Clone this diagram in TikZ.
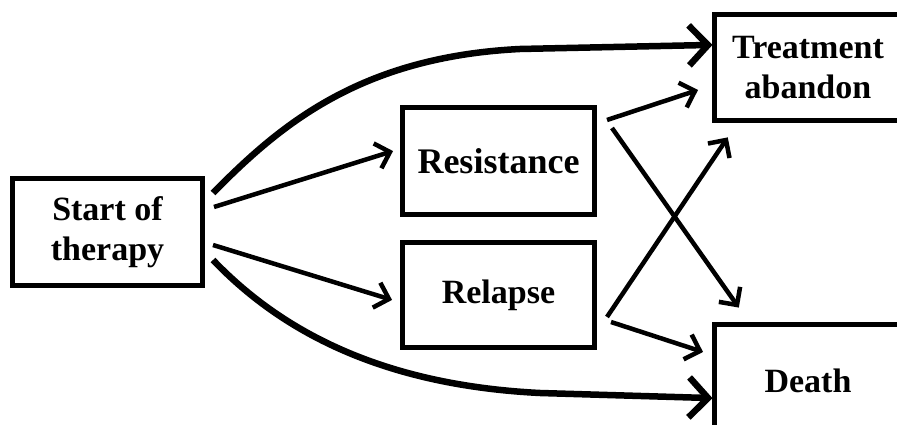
\documentclass[tikz,border=0pt]{standalone}
\usepackage{fontspec}
\setmainfont{Liberation Serif}
\usetikzlibrary{calc,decorations.markings}
\tikzset{
  box/.style={draw, line width=5pt, rectangle, align=center,
    font=\bfseries\fontsize{34}{40}\selectfont, inner sep=0pt},
  % open chevron head at the end of a path: length, half width, stroke
  chevron/.style n args={3}{postaction={decorate, decoration={markings,
    mark=at position 1 with {\draw[line width=#3, line join=miter, miter limit=10]
      (-#1,#2) -- (0,0) -- (-#1,-#2);}}}},
  bigarrow/.style={line width=6.5pt, chevron={19pt}{20pt}{6.5pt}},
  smallarrow/.style={line width=4.5pt, chevron={13pt}{13pt}{4.5pt}},
}
\begin{document}
\begin{tikzpicture}[x=1pt,y=1pt]
  \useasboundingbox (0,0) rectangle (897,425);
  \clip (0,0) rectangle (897,425);

  % boxes
  \node[box, minimum width=190pt, minimum height=107pt] (st) at (107.5,193) {Start of\\therapy};
  \node[box, minimum width=192pt, minimum height=107pt, font=\bfseries\fontsize{36}{40}\selectfont] (rs) at (498.5,264) {Resistance};
  \node[box, minimum width=192pt, minimum height=105pt] (rl) at (498.5,130) {Relapse};
  \node[box, minimum width=187pt, minimum height=106pt] (tr) at (808,357.5) {Treatment\\abandon};
  \node[box, minimum width=187pt, minimum height=113pt] (de) at (808,44) {Death};

  % connection points
  \coordinate (a1s) at ($(st.east)+(8,39)$);
  \coordinate (a1e) at ($(tr.west)+(-4,22.5)$);
  \coordinate (a4s) at ($(st.east)+(8,-28)$);
  \coordinate (a4e) at ($(de.west)+(-4,-17)$);

  % curved paths from the start
  \draw[bigarrow] (a1s) .. controls ($(a1s)+(67,68)$) and ($(a1s)+(147,136)$) .. ($(a1s)+(307,144)$) -- (a1e);
  \draw[bigarrow] (a4s) .. controls ($(a4s)+(67,-70)$) and ($(a4s)+(167,-125)$) .. ($(a4s)+(327,-133)$) -- (a4e);

  % straight paths
  \draw[smallarrow] ($(st.east)+(9,25)$) -- ($(rs.west)+(-10,9)$);
  \draw[smallarrow] ($(st.east)+(8,-13)$) -- ($(rl.west)+(-11,-4)$);
  \draw[smallarrow] ($(rs.east)+(10,41)$) -- ($(tr.west)+(-17,-23.5)$);
  \draw[smallarrow] ($(rs.east)+(15,33)$) -- ($(de.north west)+(25,17)$);
  \draw[smallarrow] ($(rl.east)+(10,-22)$) -- ($(tr.south west)+(14,-17)$);
  \draw[smallarrow] ($(rl.east)+(14,-27)$) -- ($(de.west)+(-12,30)$);
\end{tikzpicture}
\end{document}
